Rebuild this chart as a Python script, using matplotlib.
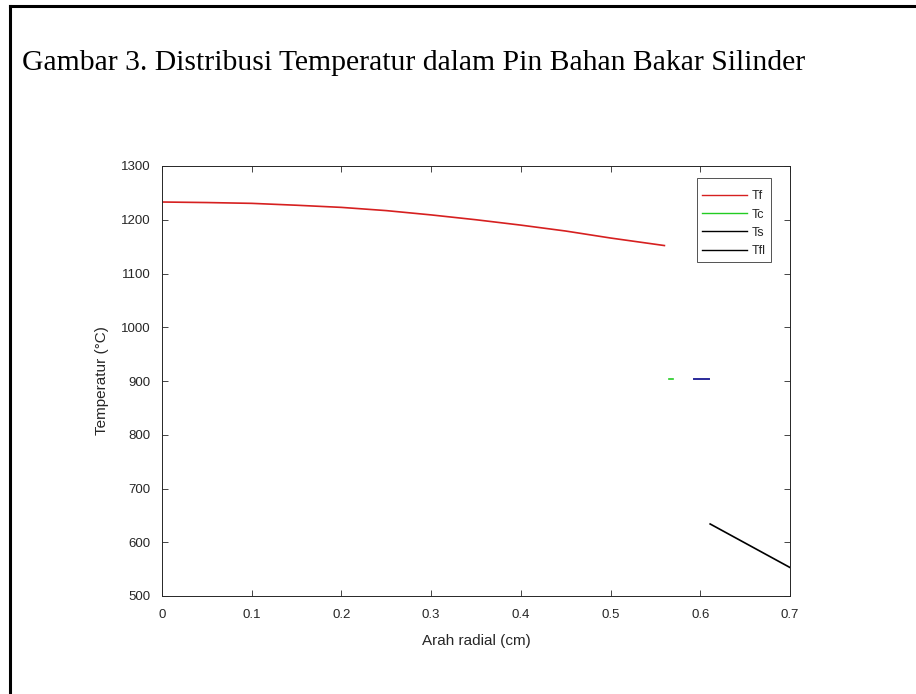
import numpy as np
import matplotlib.pyplot as plt
from matplotlib.lines import Line2D

# ==============================
# Data
# ==============================
r_f = [0.0, 0.05, 0.10, 0.15, 0.20, 0.25, 0.30, 0.35, 0.40, 0.45, 0.50, 0.56]
T_f = [1233, 1232, 1230.5, 1227, 1223, 1217, 1209, 1200, 1190, 1179, 1166, 1152]

r_c = [0.565, 0.570]
T_c = [904, 904]

r_s = [0.593, 0.610]
T_s = [904, 904]

r_fl = [0.611, 0.700]
T_fl = [634, 553]

labels = ["Tf", "Tc", "Ts", "Tfl"]
xticks = [0, 0.1, 0.2, 0.3, 0.4, 0.5, 0.6, 0.7]
yticks = [500, 600, 700, 800, 900, 1000, 1100, 1200, 1300]

# ==============================
# Figure
# ==============================
fig = plt.figure(figsize=(9.16, 6.94), dpi=100)
fig.patch.set_facecolor("white")

# page frame (left and top edges only visible)
fig.add_artist(Line2D([10/916, 10/916], [0, 1 - 6/694], color="black", lw=2.2,
                      transform=fig.transFigure))
fig.add_artist(Line2D([10/916, 1], [1 - 6/694, 1 - 6/694], color="black", lw=2.2,
                      transform=fig.transFigure))

fig.text(22/916, 1 - 63/694, "Gambar 3. Distribusi Temperatur dalam Pin Bahan Bakar Silinder",
         family="Liberation Serif", fontsize=21.3, va="center", ha="left", color="black")

ax = fig.add_axes([162/916, 1 - 596/694, 628/916, 430/694])

ax.plot(r_f, T_f, color="#d62020", lw=1.2)
ax.plot(r_c, T_c, color="#22cc22", lw=1.2)
ax.plot(r_s, T_s, color="#2a2a9a", lw=1.4)
ax.plot(r_fl, T_fl, color="black", lw=1.2)

ax.set_xlim(0, 0.7)
ax.set_ylim(500, 1300)
ax.set_xticks(xticks)
ax.set_xticklabels([f"{t:g}" for t in xticks])
ax.set_yticks(yticks)

tick_col = "#262626"
ax.tick_params(direction="in", top=True, right=True, length=4, width=0.6,
               labelsize=9.5, colors=tick_col, labelcolor=tick_col)
ax.tick_params(axis="x", pad=9)
ax.tick_params(axis="y", pad=8)
for lab in ax.get_xticklabels() + ax.get_yticklabels():
    lab.set_family("Liberation Sans")
for s in ax.spines.values():
    s.set_linewidth(0.7)
    s.set_color(tick_col)

ax.set_xlabel("Arah radial (cm)", fontsize=11, color=tick_col, labelpad=10,
              family="Liberation Sans")
ax.set_ylabel("Temperatur (°C)", fontsize=11, color=tick_col, labelpad=9,
              family="Liberation Sans")

handles = [
    Line2D([], [], color="#d62020", lw=1.0),
    Line2D([], [], color="#22cc22", lw=1.0),
    Line2D([], [], color="black", lw=1.0),
    Line2D([], [], color="black", lw=1.0),
]
# tiny blank title gives the extra room above the first entry
leg = ax.legend(handles, labels, loc="upper left", frameon=True, title=" ",
                title_fontsize=1,
                prop={"family": "Liberation Sans", "size": 9},
                fancybox=False, edgecolor="#262626", handlelength=3.6,
                borderpad=0.4, labelspacing=0.5, handletextpad=0.4,
                borderaxespad=0, bbox_to_anchor=((697 - 162) / 628, (596 - 178) / 430))
leg.get_frame().set_linewidth(0.7)
for t in leg.get_texts():
    t.set_color(tick_col)

fig.savefig("out.png", dpi=100)
